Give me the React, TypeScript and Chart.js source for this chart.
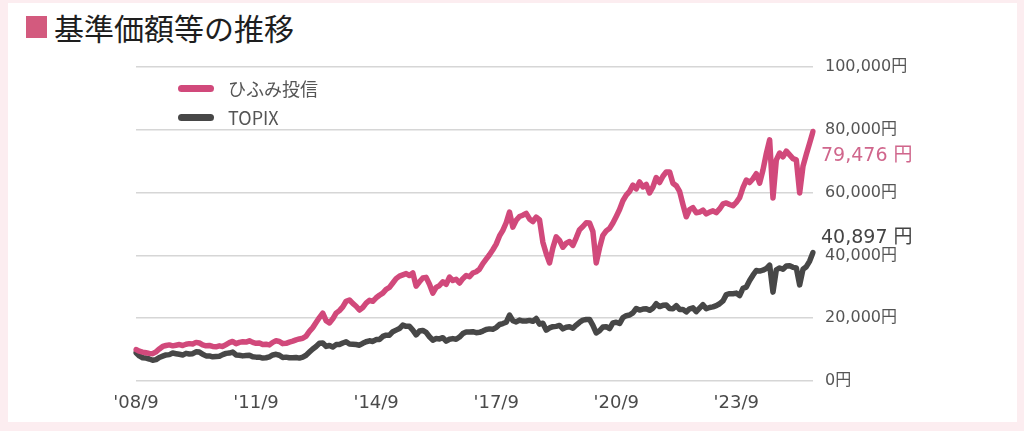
import React, { useEffect, useRef } from 'react';
import { Chart, registerables } from 'chart.js';

Chart.register(...registerables);

// 月次データ 2008/9 〜 2025/8
const startYear = 2008;
const startMonth = 9;

const hifumi: number[] = [
    // 2008 (9-12)
    10000, 9500, 9200, 9000,
    // 2009
    8800, 8700, 9300, 10200, 11000, 11300, 11500, 11200, 11400, 11600, 11300, 11700,
    // 2010
    11900, 11800, 12300, 12100, 11500, 11200, 11300, 11000, 10900, 11200, 11000, 11600,
    // 2011
    12200, 12600, 11900, 12300, 12500, 12400, 12800, 12300, 12000, 12100, 11600, 11700,
    // 2012
    11500, 12300, 12800, 12600, 11900, 12000, 12400, 12700, 13100, 13400, 13600, 14300,
    // 2013
    15800, 17000, 18600, 20200, 21600, 19200, 18500, 19800, 21600, 22400, 23600, 25400,
    // 2014
    25800, 24700, 23800, 22600, 23400, 24800, 25700, 25400, 26500, 27300, 28000, 29200,
    // 2015
    29800, 31200, 32600, 33400, 33800, 34200, 33600, 34400, 30200, 31600, 32800, 33000,
    // 2016
    30800, 28000, 29800, 30400, 31600, 30800, 33100, 32000, 32400, 31200, 32600, 33600,
    // 2017
    33200, 34400, 34800, 35600, 37400, 38800, 40200, 41800, 43600, 46200, 48000, 50400,
    // 2018
    53800, 49000, 51200, 52400, 52800, 53400, 51600, 50800, 52200, 51300, 44200, 40600,
    // 2019
    37600, 42400, 45900, 44800, 42600, 43900, 44400, 43200, 45600, 48200, 49200, 50400,
    // 2020
    50300, 47600, 37600, 42400, 46400, 47800, 48600, 50300, 52400, 54600, 57400, 59200,
    // 2021
    60400, 62400, 61200, 63400, 61800, 62600, 59900, 61800, 64800, 63200, 65200, 66600,
    // 2022
    66600, 63000, 62200, 60400, 56200, 52300, 54600, 55200, 53600, 53800, 54400, 53200,
    // 2023
    53800, 54200, 53600, 54800, 56400, 56700, 56200, 55800, 56900, 58400, 61600, 64000,
    // 2024
    63200, 64400, 66000, 63000, 67200, 72400, 76800, 58300, 70400, 72600, 71400, 73200,
    // 2025 (1-8)
    72000, 70800, 70400, 59900, 68400, 72200, 75800, 79476,
];

const topix: number[] = [
    // 2008 (9-12)
    9000, 8000, 7400, 7300,
    // 2009
    7000, 6600, 6800, 7500, 7900, 8300, 8400, 8900, 8700, 8500, 8300, 8800,
    // 2010
    8600, 8700, 9300, 9200, 8500, 8000, 8000, 7700, 7800, 7900, 8400, 8800,
    // 2011
    8900, 9200, 8300, 8200, 8000, 8100, 8200, 7700, 7600, 7600, 7300, 7400,
    // 2012
    7700, 8300, 8500, 8200, 7500, 7600, 7400, 7400, 7500, 7300, 7600, 8200,
    // 2013
    9200, 10200, 11000, 12000, 12100, 11000, 11300, 10800, 11600, 11600, 12100, 12500,
    // 2014
    11800, 11700, 11600, 11400, 12000, 12500, 12800, 12600, 13200, 13200, 14200, 14600,
    // 2015
    14600, 15700, 16200, 16700, 17800, 17400, 17400, 16200, 14700, 15900, 16100, 15500,
    // 2016
    14100, 13000, 13500, 13400, 13800, 12700, 13300, 13500, 13300, 14000, 15100, 15600,
    // 2017
    15600, 15700, 15400, 15500, 15900, 16400, 16600, 16500, 17000, 18000, 18300, 18700,
    // 2018
    21000, 19200, 18800, 19400, 19100, 19100, 19300, 19000, 19900, 18100, 18400, 16200,
    // 2019
    16900, 17300, 17400, 17700, 16600, 17100, 17300, 16800, 17800, 18700, 19400, 19600,
    // 2020
    19600, 17700, 15300, 16000, 17200, 17300, 16700, 18500, 18700, 18300, 20200, 20800,
    // 2021
    21000, 21700, 23100, 22600, 22900, 23000, 22500, 23200, 24600, 23700, 24100, 24200,
    // 2022
    23100, 23000, 24000, 22800, 22800, 22000, 23000, 23300, 22100, 23200, 24300, 23000,
    // 2023
    23400, 23600, 24000, 24600, 25500, 27500, 27800, 27800, 28000, 27200, 29500, 29900,
    // 2024
    32000, 33700, 35200, 35000, 35300, 35800, 36900, 28300, 35400, 36000, 35600, 36600,
    // 2025 (1-8)
    36700, 36200, 36000, 30600, 35600, 36400, 38200, 40897,
];

// x軸に表示する年（9月）
const tickYears = [2008, 2011, 2014, 2017, 2020, 2023];
const yTicks = [0, 20000, 40000, 60000, 80000, 100000];

const labels: string[] = hifumi.map((_, i) => {
    const m = startMonth - 1 + i;
    const y = startYear + Math.floor(m / 12);
    return `${y}/${(m % 12) + 1}`;
});

const PINK = '#d1497b';
const DARK = '#474747';
const FONT = '"DejaVu Sans", "Noto Sans CJK JP", sans-serif';
const JP_FONT = '"Noto Sans CJK JP", sans-serif';

// 最新値のラベル（右端）
const endLabels = [
    { text: '79,476 円', at: 71500, color: '#d0668c' },
    { text: '40,897 円', at: 45600, color: '#444444' },
];

const endLabelPlugin = {
    id: 'endLabels',
    afterDraw(chart: Chart) {
        const { ctx, chartArea, scales } = chart;
        ctx.save();
        ctx.font = `19px ${FONT}`;
        ctx.textBaseline = 'middle';
        ctx.textAlign = 'left';
        endLabels.forEach((l) => {
            ctx.fillStyle = l.color;
            ctx.fillText(l.text, chartArea.right + 8, scales.y.getPixelForValue(l.at));
        });
        ctx.restore();
    },
};

const PriceChart = () => {
    const canvasRef = useRef<HTMLCanvasElement>(null);

    useEffect(() => {
        if (!canvasRef.current) return;
        const chart = new Chart(canvasRef.current, {
            type: 'line',
            data: {
                labels,
                datasets: [
                    { label: 'ひふみ投信', data: hifumi, borderColor: PINK, borderWidth: 5.5 },
                    { label: 'TOPIX', data: topix, borderColor: DARK, borderWidth: 5.5 },
                ],
            },
            options: {
                animation: false,
                responsive: false,
                layout: { padding: { left: 136, top: 67, right: 111, bottom: 10 } },
                elements: { point: { radius: 0 }, line: { tension: 0, borderJoinStyle: 'round', borderCapStyle: 'round' } },
                plugins: { legend: { display: false }, tooltip: { enabled: false } },
                scales: {
                    x: {
                        type: 'category',
                        offset: false,
                        grid: { display: false },
                        border: { display: false },
                        afterFit: (s: any) => { s.height = 40; },
                        ticks: {
                            autoSkip: false,
                            maxRotation: 0,
                            padding: 4,
                            color: '#4a4a4a',
                            font: { family: FONT, size: 18 },
                            callback: (_v: any, i: number) => {
                                const [y, m] = labels[i].split('/').map(Number);
                                return m === 9 && tickYears.includes(y) ? `'${String(y).slice(2)}/9` : null;
                            },
                        },
                    },
                    y: {
                        position: 'right',
                        min: 0,
                        max: 100000,
                        afterFit: (s: any) => { s.width = 100; },
                        afterBuildTicks: (s: any) => { s.ticks = yTicks.map((v) => ({ value: v })); },
                        grid: { color: '#d6d6d6', lineWidth: 1.5, drawTicks: false },
                        border: { display: false },
                        ticks: {
                            padding: 12,
                            color: '#555',
                            font: { family: FONT, size: 16 },
                            callback: (v: any) => `${Number(v).toLocaleString('en-US')}円`,
                        },
                    },
                },
            },
            plugins: [endLabelPlugin],
        });
        return () => chart.destroy();
    }, []);

    return <canvas ref={canvasRef} width={1024} height={431} style={{ position: 'absolute', left: 0, top: 0 }} />;
};

const LegendItem = ({ color, text, top }: { color: string; text: string; top: number }) => (
    <div style={{ position: 'absolute', left: 178, top, display: 'flex', alignItems: 'center', gap: 14 }}>
        <span style={{ display: 'inline-block', width: 36, height: 7, borderRadius: 4, background: color }} />
        <span style={{ fontFamily: JP_FONT, fontSize: 18, color: '#555', lineHeight: '20px' }}>{text}</span>
    </div>
);

export default function App() {
    useEffect(() => {
        document.body.style.margin = '0';
    }, []);

    return (
        <div style={{ position: 'fixed', left: 0, top: 0, width: 1024, height: 431, background: '#fcedf0', overflow: 'hidden' }}>
            <div style={{ position: 'absolute', left: 8, top: 3, width: 1009, height: 419, background: '#fff' }} />
            <div style={{ position: 'absolute', left: 26, top: 8, display: 'flex', alignItems: 'center', fontFamily: JP_FONT, fontSize: 30, color: '#1e1e1e', lineHeight: '38px' }}>
                <span style={{ display: 'inline-block', width: 21, height: 22, background: '#d35a7e', marginRight: 7 }} />
                基準価額等の推移
            </div>
            <PriceChart />
            <LegendItem color={PINK} text="ひふみ投信" top={78} />
            <LegendItem color={DARK} text="TOPIX" top={107} />
        </div>
    );
}
